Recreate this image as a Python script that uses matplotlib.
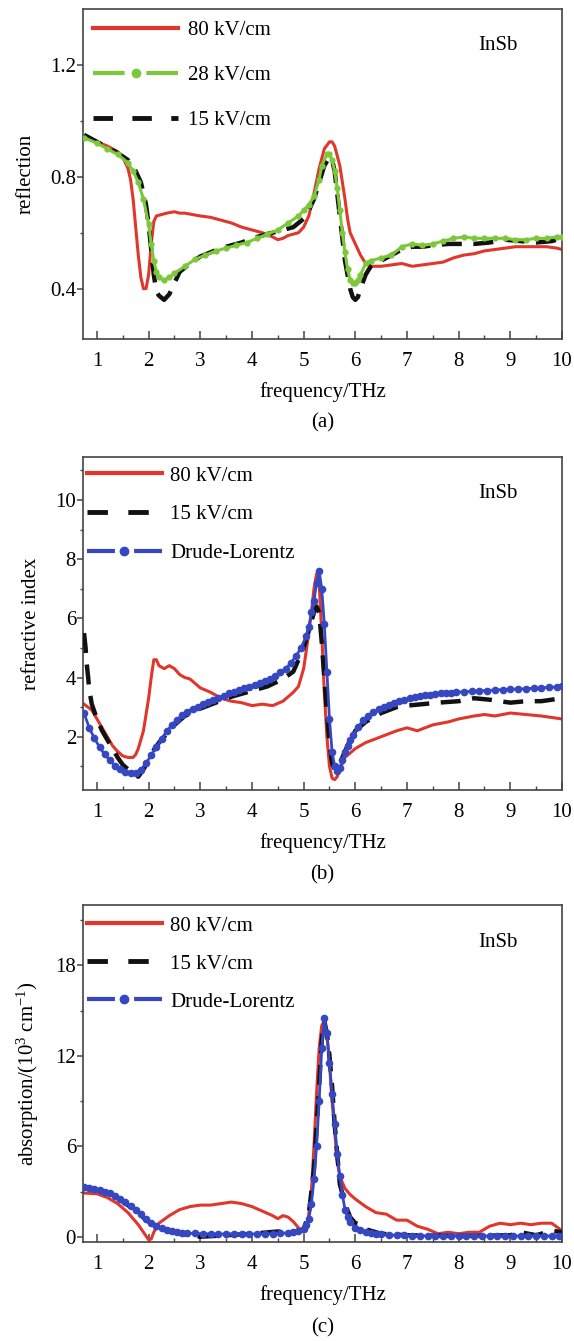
import matplotlib
matplotlib.use("Agg")
import matplotlib.pyplot as plt
from matplotlib.lines import Line2D

plt.rcParams["font.family"] = ["Liberation Serif", "DejaVu Serif"]
plt.rcParams["mathtext.fontset"] = "custom"
plt.rcParams["mathtext.rm"] = "Liberation Serif"
plt.rcParams["mathtext.it"] = "Liberation Serif:italic"

RED = "#e0362c"
GREEN = "#7dc83a"
BLUE = "#3548c2"
BLACK = "#111111"

# ---- (a) reflection ----
f_refl_80 = [0.75, 1.0, 1.2, 1.4, 1.5, 1.6, 1.65, 1.7, 1.75, 1.8, 1.85, 1.9, 1.95, 2.0,
             2.05, 2.1, 2.15, 2.25, 2.35, 2.5, 2.6, 2.7, 2.85, 3.0, 3.2, 3.4, 3.6, 3.8,
             4.0, 4.2, 4.4, 4.5, 4.6, 4.7, 4.8, 4.9, 5.0, 5.1, 5.2, 5.3, 5.4, 5.5, 5.55,
             5.6, 5.7, 5.8, 5.85, 5.9, 6.0, 6.1, 6.2, 6.3, 6.5, 6.7, 6.9, 7.1, 7.3, 7.5,
             7.7, 7.9, 8.1, 8.3, 8.5, 8.7, 8.9, 9.1, 9.3, 9.5, 9.7, 9.9, 10.0]
refl_80 = [0.94, 0.925, 0.91, 0.89, 0.87, 0.83, 0.79, 0.72, 0.62, 0.52, 0.44, 0.40, 0.40, 0.45,
           0.56, 0.64, 0.66, 0.665, 0.67, 0.675, 0.67, 0.67, 0.665, 0.66, 0.655, 0.645, 0.635, 0.62,
           0.61, 0.60, 0.585, 0.575, 0.58, 0.59, 0.595, 0.60, 0.62, 0.66, 0.74, 0.83, 0.90, 0.925, 0.925,
           0.91, 0.84, 0.72, 0.65, 0.60, 0.56, 0.52, 0.49, 0.48, 0.48, 0.485, 0.49, 0.48, 0.485, 0.49,
           0.495, 0.51, 0.52, 0.525, 0.535, 0.54, 0.545, 0.55, 0.55, 0.55, 0.55, 0.545, 0.54]

f_refl_28 = [0.75, 1.0, 1.2, 1.4, 1.6, 1.7, 1.8, 1.9, 2.0, 2.05, 2.1, 2.15, 2.2, 2.3, 2.4,
             2.5, 2.7, 2.9, 3.1, 3.3, 3.5, 3.7, 3.9, 4.1, 4.3, 4.5, 4.7, 4.9, 5.0, 5.1,
             5.2, 5.3, 5.35, 5.45, 5.5, 5.55, 5.6, 5.65, 5.7, 5.75, 5.8, 5.85, 5.9, 5.95,
             6.0, 6.05, 6.1, 6.2, 6.3, 6.5, 6.7, 6.9, 7.1, 7.3, 7.5, 7.7, 7.9, 8.1, 8.3,
             8.5, 8.7, 8.9, 9.1, 9.3, 9.5, 9.7, 9.9, 10.0]
refl_28 = [0.94, 0.92, 0.90, 0.88, 0.85, 0.82, 0.78, 0.72, 0.63, 0.56, 0.50, 0.46, 0.44, 0.43, 0.44,
           0.455, 0.48, 0.505, 0.52, 0.535, 0.545, 0.555, 0.565, 0.58, 0.595, 0.61, 0.635, 0.66, 0.68, 0.70,
           0.73, 0.79, 0.84, 0.88, 0.88, 0.86, 0.82, 0.76, 0.68, 0.60, 0.53, 0.47, 0.43, 0.42,
           0.42, 0.43, 0.45, 0.49, 0.50, 0.51, 0.52, 0.55, 0.56, 0.555, 0.56, 0.57, 0.58, 0.585, 0.58,
           0.58, 0.58, 0.58, 0.575, 0.575, 0.58, 0.58, 0.585, 0.585]

f_refl_15 = [0.75, 1.0, 1.2, 1.4, 1.6, 1.75, 1.85, 1.95, 2.0, 2.05, 2.1, 2.15, 2.2, 2.3, 2.4,
             2.5, 2.6, 2.8, 3.0, 3.2, 3.4, 3.6, 3.8, 4.0, 4.2, 4.4, 4.6, 4.8, 5.0, 5.1,
             5.2, 5.3, 5.4, 5.5, 5.55, 5.6, 5.65, 5.7, 5.75, 5.8, 5.85, 5.9, 5.95, 6.0,
             6.05, 6.1, 6.2, 6.3, 6.5, 6.7, 6.9, 7.1, 7.3, 7.5, 7.8, 8.0, 8.3, 8.6, 8.9,
             9.2, 9.5, 9.8, 10.0]
refl_15 = [0.95, 0.925, 0.905, 0.885, 0.86, 0.82, 0.78, 0.70, 0.63, 0.54, 0.45, 0.39, 0.375, 0.36, 0.38,
           0.42, 0.46, 0.49, 0.515, 0.53, 0.545, 0.555, 0.565, 0.58, 0.59, 0.60, 0.61, 0.62, 0.65, 0.68,
           0.72, 0.78, 0.84, 0.87, 0.86, 0.82, 0.74, 0.66, 0.58, 0.50, 0.45, 0.40, 0.37, 0.36,
           0.37, 0.40, 0.45, 0.48, 0.50, 0.52, 0.54, 0.55, 0.55, 0.555, 0.56, 0.56, 0.56, 0.565, 0.575,
           0.57, 0.565, 0.57, 0.58]

# ---- (b) refractive index ----
f_n_80 = [0.75, 0.9, 1.0, 1.1, 1.2, 1.3, 1.4, 1.5, 1.6, 1.7, 1.75, 1.8, 1.9, 2.0, 2.05,
          2.1, 2.15, 2.2, 2.3, 2.4, 2.5, 2.6, 2.7, 2.8, 2.9, 3.0, 3.2, 3.4, 3.6, 3.8,
          4.0, 4.2, 4.4, 4.6, 4.8, 4.9, 5.0, 5.05, 5.1, 5.15, 5.2, 5.25, 5.3, 5.35, 5.4,
          5.45, 5.5, 5.55, 5.6, 5.65, 5.7, 5.8, 6.0, 6.2, 6.5, 6.8, 7.0, 7.2, 7.5, 7.8,
          8.0, 8.3, 8.5, 8.7, 9.0, 9.3, 9.6, 10.0]
n_80 = [3.1, 2.9, 2.6, 2.3, 2.0, 1.7, 1.5, 1.35, 1.3, 1.3, 1.4, 1.6, 2.2, 3.3, 4.0,
        4.6, 4.6, 4.4, 4.3, 4.4, 4.3, 4.1, 4.0, 3.95, 3.8, 3.65, 3.5, 3.3, 3.2, 3.15,
        3.05, 3.1, 3.05, 3.2, 3.5, 3.7, 4.3, 4.9, 5.5, 6.2, 7.0, 7.5, 7.2, 5.5, 3.5,
        2.0, 1.0, 0.6, 0.55, 0.65, 0.9, 1.3, 1.6, 1.8, 2.0, 2.2, 2.3, 2.2, 2.4, 2.5,
        2.6, 2.7, 2.75, 2.7, 2.8, 2.75, 2.7, 2.6]

f_n_15 = [0.75, 0.78, 0.8, 0.83, 0.85, 0.9, 1.0, 1.1, 1.2, 1.3, 1.4, 1.5, 1.6, 1.7, 1.8,
          1.9, 2.0, 2.1, 2.2, 2.3, 2.5, 2.7, 3.0, 3.3, 3.6, 4.0, 4.3, 4.6, 4.8, 4.9,
          5.0, 5.1, 5.2, 5.25, 5.3, 5.35, 5.4, 5.45, 5.5, 5.55, 5.6, 5.65, 5.7, 5.8, 5.9,
          6.0, 6.2, 6.5, 6.8, 7.0, 7.3, 7.6, 8.0, 8.3, 8.6, 9.0, 9.3, 9.6, 10.0]
n_15 = [5.5, 5.0, 4.5, 4.0, 3.6, 3.1, 2.6, 2.2, 1.9, 1.6, 1.3, 1.05, 0.9, 0.75, 0.65,
        0.9, 1.2, 1.55, 1.8, 2.0, 2.4, 2.7, 2.95, 3.15, 3.35, 3.55, 3.7, 3.95, 4.2, 4.6,
        5.0, 5.6, 6.2, 6.4, 6.2, 5.2, 4.0, 2.8, 1.8, 1.1, 0.9, 0.9, 1.1, 1.5, 1.9,
        2.2, 2.5, 2.8, 3.0, 3.05, 3.1, 3.15, 3.2, 3.3, 3.25, 3.15, 3.2, 3.2, 3.3]

f_n_dl = [0.75, 0.85, 0.95, 1.05, 1.15, 1.25, 1.35, 1.45, 1.55, 1.65, 1.75, 1.85, 1.95, 2.05,
          2.15, 2.25, 2.35, 2.45, 2.55, 2.65, 2.75, 2.85, 2.95, 3.05, 3.15, 3.25, 3.35, 3.45,
          3.55, 3.65, 3.75, 3.85, 3.95, 4.05, 4.15, 4.25, 4.35, 4.45, 4.55, 4.65, 4.75, 4.85,
          4.95, 5.05, 5.1, 5.15, 5.2, 5.25, 5.3, 5.35, 5.4, 5.45, 5.5, 5.55, 5.6, 5.65, 5.7,
          5.75, 5.8, 5.85, 5.9, 5.95, 6.05, 6.15, 6.25, 6.35, 6.45, 6.55, 6.65, 6.75, 6.85,
          6.95, 7.05, 7.15, 7.25, 7.35, 7.45, 7.55, 7.65, 7.75, 7.85, 7.95, 8.1, 8.25, 8.4,
          8.55, 8.7, 8.85, 9.0, 9.15, 9.3, 9.45, 9.6, 9.75, 9.9, 10.0]
n_dl = [2.8, 2.3, 1.95, 1.65, 1.4, 1.2, 1.02, 0.9, 0.82, 0.78, 0.78, 0.88, 1.1, 1.38,
        1.65, 1.92, 2.18, 2.4, 2.58, 2.72, 2.85, 2.94, 3.02, 3.09, 3.16, 3.24, 3.31, 3.38,
        3.46, 3.52, 3.58, 3.63, 3.69, 3.75, 3.82, 3.89, 3.96, 4.05, 4.17, 4.3, 4.48, 4.72,
        5.0, 5.4, 5.7, 6.2, 6.6, 7.2, 7.6, 7.0, 5.8, 4.2, 2.6, 1.5, 1.0, 0.85, 0.95,
        1.2, 1.5, 1.7, 1.9, 2.05, 2.32, 2.55, 2.7, 2.82, 2.92, 3.0, 3.08, 3.15, 3.2,
        3.25, 3.3, 3.33, 3.37, 3.4, 3.42, 3.44, 3.46, 3.47, 3.49, 3.5, 3.52, 3.53, 3.55,
        3.56, 3.58, 3.59, 3.6, 3.61, 3.62, 3.64, 3.65, 3.67, 3.68, 3.7]

# ---- (c) absorption ----
f_a_80 = [0.75, 1.0, 1.2, 1.4, 1.6, 1.8, 1.9, 2.0, 2.05, 2.1, 2.2, 2.4, 2.6, 2.8, 3.0,
          3.2, 3.4, 3.6, 3.8, 4.0, 4.2, 4.4, 4.5, 4.6, 4.7, 4.8, 4.9, 5.0, 5.05, 5.1,
          5.15, 5.2, 5.25, 5.3, 5.35, 5.4, 5.45, 5.5, 5.55, 5.6, 5.65, 5.7, 5.8, 5.9, 6.0,
          6.2, 6.4, 6.6, 6.8, 7.0, 7.2, 7.4, 7.6, 7.8, 8.0, 8.2, 8.4, 8.6, 8.8, 9.0,
          9.2, 9.4, 9.6, 9.8, 10.0]
a_80 = [2.9, 2.85, 2.6, 2.2, 1.6, 0.8, 0.3, -0.2, -0.15, 0.3, 0.9, 1.4, 1.8, 2.0, 2.1,
        2.1, 2.2, 2.3, 2.2, 2.0, 1.7, 1.4, 1.2, 1.4, 1.3, 1.0, 0.6, 0.3, 0.5, 1.5,
        3.0, 6.0, 9.5, 12.5, 14.0, 14.3, 13.5, 11.5, 9.0, 7.0, 5.0, 4.0, 3.2, 2.8, 2.5,
        2.0, 1.6, 1.5, 1.1, 1.1, 0.7, 0.5, 0.2, 0.3, 0.2, 0.3, 0.3, 0.7, 0.9, 0.8,
        0.9, 0.8, 0.9, 0.9, 0.4]

f_a_15 = [0.75, 1.0, 1.2, 1.4, 1.6, 1.8, 2.0, 2.2, 2.4, 2.6, 3.0, 3.5, 4.0, 4.5, 4.8,
          5.0, 5.1, 5.2, 5.3, 5.35, 5.4, 5.45, 5.5, 5.55, 5.6, 5.65, 5.7, 5.8, 5.9, 6.0,
          6.1, 6.2, 6.5, 7.0, 8.0, 9.0, 9.2, 9.5, 9.8, 10.0]
a_15 = [3.3, 3.1, 2.9, 2.55, 2.1, 1.55, 1.0, 0.6, 0.35, 0.2, 0.0, 0.1, 0.2, 0.35, 0.3,
        0.5, 1.5, 4.5, 10.0, 13.0, 14.3, 13.5, 12.0, 10.0, 7.5, 5.5, 3.5, 2.2, 1.3, 0.9,
        0.8, 0.5, 0.2, 0.1, 0.05, 0.1, 0.3, 0.1, 0.4, 0.3]

f_a_dl = [0.75, 0.85, 0.95, 1.05, 1.15, 1.25, 1.35, 1.45, 1.55, 1.65, 1.75, 1.85, 1.95, 2.05,
          2.15, 2.25, 2.35, 2.45, 2.55, 2.65, 2.75, 2.9, 3.05, 3.2, 3.35, 3.5, 3.65, 3.8,
          3.95, 4.1, 4.25, 4.4, 4.55, 4.7, 4.8, 4.9, 5.0, 5.05, 5.1, 5.15, 5.2, 5.25, 5.3,
          5.35, 5.4, 5.45, 5.5, 5.55, 5.6, 5.65, 5.7, 5.75, 5.8, 5.85, 5.9, 6.0, 6.1, 6.2,
          6.3, 6.4, 6.5, 6.65, 6.8, 6.95, 7.1, 7.25, 7.4, 7.55, 7.7, 7.85, 8.0, 8.15, 8.3,
          8.45, 8.6, 8.75, 8.9, 9.05, 9.2, 9.35, 9.5, 9.65, 9.8, 9.95]
a_dl = [3.3, 3.25, 3.18, 3.1, 3.0, 2.88, 2.72, 2.52, 2.3, 2.05, 1.78, 1.48, 1.18, 0.9,
        0.7, 0.55, 0.44, 0.36, 0.31, 0.27, 0.24, 0.22, 0.2, 0.19, 0.18, 0.18, 0.18, 0.18,
        0.18, 0.19, 0.19, 0.2, 0.22, 0.26, 0.3, 0.38, 0.5, 0.8, 1.2, 2.2, 3.8, 6.0, 9.0,
        12.5, 14.5, 13.5, 11.5, 9.5, 7.5, 5.5, 4.0, 2.8, 1.8, 1.3, 1.0, 0.6, 0.45, 0.33,
        0.25, 0.2, 0.15, 0.12, 0.1, 0.09, 0.08, 0.07, 0.06, 0.05, 0.05, 0.05, 0.05, 0.05, 0.05,
        0.05, 0.05, 0.05, 0.05, 0.05, 0.05, 0.05, 0.05, 0.05, 0.05, 0.05]

xticks = [1, 2, 3, 4, 5, 6, 7, 8, 9, 10]
FS = 15

fig = plt.figure(figsize=(5.74, 13.41), dpi=100)

rects = {
    "a": [0.1446, 0.7472, 0.8345, 0.2461],
    "b": [0.1446, 0.4109, 0.8345, 0.2483],
    "c": [0.1446, 0.0738, 0.8345, 0.2513],
}


def style_axes(ax, ymajor, yminor, ylim, ylabel, tag):
    ax.set_xlim(0.73, 10)
    ax.set_ylim(*ylim)
    ax.set_xticks(xticks)
    ax.set_xticks([x + 0.5 for x in range(1, 10)], minor=True)
    ax.set_yticks(ymajor)
    ax.set_yticks(yminor, minor=True)
    for s in ax.spines.values():
        s.set_color("#444444")
        s.set_linewidth(1.2)
    ax.tick_params(axis="x", which="major", direction="in", length=6, width=1.1,
                   color="#444444", labelsize=FS, pad=9.5)
    ax.tick_params(axis="x", which="minor", direction="in", length=3, width=1.0, color="#444444")
    ax.tick_params(axis="y", which="major", direction="out", length=4, width=1.1,
                   color="#444444", labelsize=FS, pad=1)
    ax.tick_params(axis="y", which="minor", direction="out", length=2.5, width=1.0, color="#444444")
    ax.set_xlabel("frequency/THz", fontsize=FS, labelpad=7.5)
    ax.set_ylabel(ylabel, fontsize=FS, labelpad=10)
    ax.text(0.866, 0.89, "InSb", transform=ax.transAxes, fontsize=FS,
            ha="center", va="center")
    # panel tag under the x-axis title
    ax.text(0.5, -0.255, tag, transform=ax.transAxes, fontsize=FS, ha="center", va="center")


# (a)
ax = fig.add_axes(rects["a"])
ax.plot(f_refl_80, refl_80, color=RED, lw=2.2, zorder=2)
ax.plot(f_refl_15, refl_15, color=BLACK, lw=3.2, ls=(0, (4.5, 2.6)), zorder=3)
ax.plot(f_refl_28, refl_28, color=GREEN, lw=2.2, marker="o", ms=3.5, zorder=4)
style_axes(ax, [0.4, 0.8, 1.2], [0.6, 1.0], (0.22, 1.40), "reflection", "(a)")
handles = [
    Line2D([], [], color=RED, lw=3),
    Line2D([], [], color=GREEN, lw=3, ls=(0, (7.6, 5.2)), marker="o", ms=6),
    Line2D([], [], color=BLACK, lw=3.5, ls=(0, (4.0, 4.0))),
]
ax.legend(handles, ["80 kV/cm", "28 kV/cm", "15 kV/cm"], loc="upper left",
          bbox_to_anchor=(0.021, 0.965), frameon=False, fontsize=FS, numpoints=1,
          handlelength=4.1, handletextpad=0.45, labelspacing=1.22,
          borderpad=0, borderaxespad=0)

# (b)
ax = fig.add_axes(rects["b"])
ax.plot(f_n_80, n_80, color=RED, lw=2.2, zorder=2)
ax.plot(f_n_15, n_15, color=BLACK, lw=3.2, ls=(0, (4.5, 2.6)), zorder=3)
ax.plot(f_n_dl, n_dl, color=BLUE, lw=2.0, marker="o", ms=4.5, zorder=4)
style_axes(ax, [2, 4, 6, 8, 10], [1, 3, 5, 7, 9, 11], (0.2, 11.45), "refractive index", "(b)")
handles = [
    Line2D([], [], color=RED, lw=3),
    Line2D([], [], color=BLACK, lw=3.5, ls=(0, (4.2, 4.2))),
    Line2D([], [], color=BLUE, lw=3, ls=(0, (6.7, 4.6)), marker="o", ms=6),
]
ax.legend(handles, ["80 kV/cm", "15 kV/cm", "Drude-Lorentz"], loc="upper left",
          bbox_to_anchor=(0.008, 0.973), frameon=False, fontsize=FS, numpoints=1,
          handlelength=3.6, handletextpad=0.4, labelspacing=0.92,
          borderpad=0, borderaxespad=0)

# (c)
ax = fig.add_axes(rects["c"])
ax.plot(f_a_80, a_80, color=RED, lw=2.2, zorder=2)
ax.plot(f_a_15, a_15, color=BLACK, lw=3.2, ls=(0, (4.5, 2.6)), zorder=3)
ax.plot(f_a_dl, a_dl, color=BLUE, lw=2.0, marker="o", ms=4.5, zorder=4)
style_axes(ax, [0, 6, 12, 18], [3, 9, 15, 21], (-0.35, 22.0),
           r"absorption/(10$^{3}$ cm$^{-1}$)", "(c)")
ax.legend(handles, ["80 kV/cm", "15 kV/cm", "Drude-Lorentz"], loc="upper left",
          bbox_to_anchor=(0.008, 0.967), frameon=False, fontsize=FS, numpoints=1,
          handlelength=3.6, handletextpad=0.4, labelspacing=0.88,
          borderpad=0, borderaxespad=0)

fig.savefig("out.png", dpi=100)
